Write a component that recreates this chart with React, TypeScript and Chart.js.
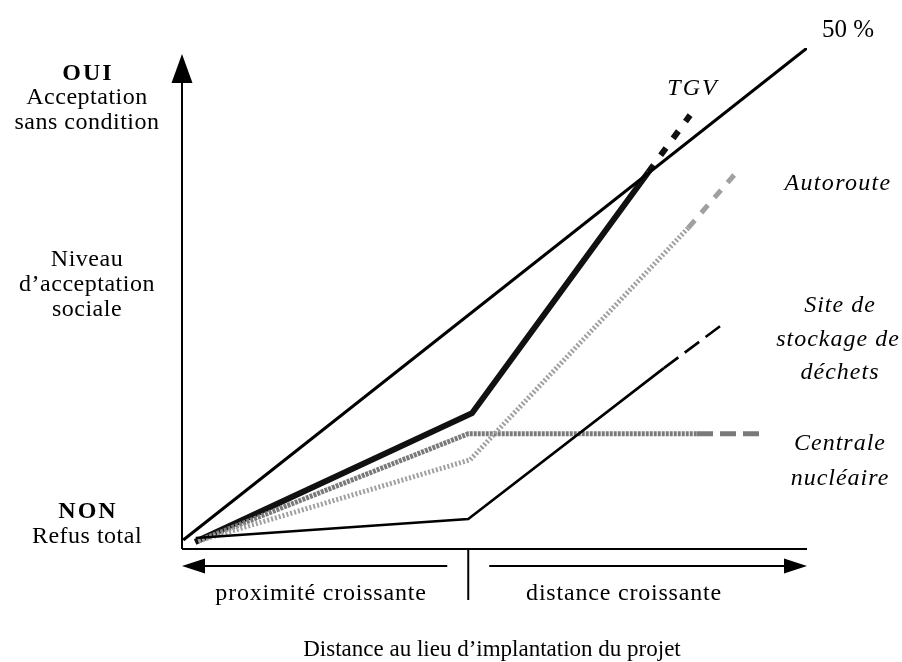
import React, { useEffect, useRef } from "react";
import { Chart, registerables } from "chart.js";

Chart.register(...registerables);

// Distance (0 = très proche, 100 = très loin) / niveau d'acceptation (0 = refus, 100 = acceptation)
const line50X = [0.2, 100];
const line50Y = [1.8, 100];
const tgvX = [2.1, 46.4, 74.6, 81.3];
const tgvY = [1.4, 27.1, 75.2, 86.6];
const autorouteX = [2.6, 46.1, 81.0, 89.0];
const autorouteY = [1.6, 17.8, 64.1, 75.6];
const dechetsX = [2.2, 45.8, 77.1, 87.0];
const dechetsY = [2.2, 6.0, 36.1, 45.3];
const centraleX = [2.6, 45.8, 82.4, 93.3];
const centraleY = [1.6, 23.0, 23.0, 23.0];

const seriesNames = ["50 %", "TGV", "Autoroute", "Site de stockage de déchets", "Centrale nucléaire"];
const leftTop = ["OUI", "Acceptation", "sans condition"];
const leftMid = ["Niveau", "d’acceptation", "sociale"];
const leftBottom = ["NON", "Refus total"];
const bottomLabels = ["proximité croissante", "distance croissante"];
const xTitle = "Distance au lieu d’implantation du projet";
const dechetsLabel = ["Site de", "stockage de", "déchets"];
const centraleLabel = ["Centrale", "nucléaire"];

const pts = (xs: number[], ys: number[]) => xs.map((x, i) => ({ x, y: ys[i] }));
const tailDash = (dash: number[]) => (ctx: any) => (ctx.p0DataIndex === 2 ? dash : undefined);

const FONT = '"Liberation Serif", "DejaVu Serif", serif';

const decor = {
  id: "decor",
  afterDraw(chart: any) {
    const { ctx, scales } = chart;
    const xs = scales.x;
    const ys = scales.y;
    const x0 = xs.getPixelForValue(0);
    const x1 = xs.getPixelForValue(100);
    const y0 = ys.getPixelForValue(0);
    const yTop = ys.getPixelForValue(98.8);
    const xMid = xs.getPixelForValue(45.8);
    ctx.save();
    ctx.strokeStyle = "#000";
    ctx.fillStyle = "#000";
    ctx.lineWidth = 2;
    // vertical axis
    ctx.beginPath();
    ctx.moveTo(x0, y0);
    ctx.lineTo(x0, yTop + 26);
    ctx.stroke();
    ctx.beginPath();
    ctx.moveTo(x0, yTop);
    ctx.lineTo(x0 - 10.5, yTop + 29);
    ctx.lineTo(x0 + 10.5, yTop + 29);
    ctx.closePath();
    ctx.fill();
    // baseline
    ctx.beginPath();
    ctx.moveTo(x0, y0);
    ctx.lineTo(x1, y0);
    ctx.stroke();
    // bottom arrows
    const ya = y0 + 17;
    ctx.beginPath();
    ctx.moveTo(x0 + 20, ya);
    ctx.lineTo(xMid - 21, ya);
    ctx.moveTo(xMid + 21, ya);
    ctx.lineTo(x1 - 20, ya);
    ctx.stroke();
    ctx.beginPath();
    ctx.moveTo(x0, ya);
    ctx.lineTo(x0 + 23, ya - 7.5);
    ctx.lineTo(x0 + 23, ya + 7.5);
    ctx.closePath();
    ctx.fill();
    ctx.beginPath();
    ctx.moveTo(x1, ya);
    ctx.lineTo(x1 - 23, ya - 7.5);
    ctx.lineTo(x1 - 23, ya + 7.5);
    ctx.closePath();
    ctx.fill();
    // centre tick
    ctx.beginPath();
    ctx.moveTo(xMid, y0);
    ctx.lineTo(xMid, y0 + 51);
    ctx.stroke();

    const txt = (s: string, x: number, y: number, font: string, align: CanvasTextAlign = "center", ls = "0px") => {
      ctx.font = font;
      (ctx as any).letterSpacing = ls;
      ctx.textAlign = align;
      ctx.textBaseline = "alphabetic";
      ctx.fillText(s, x, y);
    };
    const reg = `24px ${FONT}`;
    const bold = `bold 24px ${FONT}`;
    const ital = `italic 24px ${FONT}`;

    // left labels
    txt(leftTop[0], 88, 80, bold, "center", "2px");
    txt(leftTop[1], 87, 104, reg, "center", "0.5px");
    txt(leftTop[2], 87, 129, reg, "center", "0.5px");
    txt(leftMid[0], 87, 266, reg, "center", "0.5px");
    txt(leftMid[1], 87, 291, reg, "center", "0.5px");
    txt(leftMid[2], 87, 316, reg, "center", "0.5px");
    txt(leftBottom[0], 88, 518, bold, "center", "2px");
    txt(leftBottom[1], 87, 543, reg, "center", "0.5px");

    // bottom labels
    txt(bottomLabels[0], 321, 600, reg, "center", "0.8px");
    txt(bottomLabels[1], 624, 600, reg, "center", "0.8px");
    txt(xTitle, 492, 656, `23px ${FONT}`, "center", "0px");

    // series labels
    txt(seriesNames[0], 822, 37, `25px ${FONT}`, "left", "0px");
    txt(seriesNames[1], 693, 95, ital, "center", "2px");
    txt(seriesNames[2], 838, 190, ital, "center", "1.3px");
    txt(dechetsLabel[0], 840, 312, ital, "center", "1px");
    txt(dechetsLabel[1], 838, 346, ital, "center", "1px");
    txt(dechetsLabel[2], 840, 379, ital, "center", "1px");
    txt(centraleLabel[0], 840, 450, ital, "center", "1px");
    txt(centraleLabel[1], 840, 485, ital, "center", "1px");
    ctx.restore();
  },
};

export default function App() {
  const ref = useRef<HTMLCanvasElement | null>(null);
  useEffect(() => {
    if (!ref.current) return;
    const chart = new Chart(ref.current, {
      type: "line",
      data: {
        datasets: [
          {
            label: seriesNames[0],
            data: pts(line50X, line50Y),
            borderColor: "#000",
            borderWidth: 3,
          },
          {
            label: seriesNames[3],
            data: pts(dechetsX, dechetsY),
            borderColor: "#000",
            borderWidth: 2.6,
            segment: { borderDash: tailDash([18, 8]) },
          },
          {
            label: seriesNames[2],
            data: pts(autorouteX, autorouteY),
            borderColor: "#a0a0a0",
            borderWidth: 5,
            borderDash: [2, 2],
            segment: { borderDash: tailDash([10, 10]) },
          },
          {
            label: seriesNames[4],
            data: pts(centraleX, centraleY),
            borderColor: "#7a7a7a",
            borderWidth: 5,
            borderDash: [3, 1],
            segment: { borderDash: tailDash([16, 7]) },
          },
          {
            label: seriesNames[1],
            data: pts(tgvX, tgvY),
            borderColor: "#111",
            borderWidth: 6,
            segment: { borderDash: tailDash([9, 12]) },
          },
          {
            label: seriesNames[1] + " ",
            data: pts(tgvX, tgvY),
            borderColor: "#fff",
            borderWidth: 2,
            borderDash: [2, 3],
            segment: { borderDash: tailDash([2, 3, 2, 14]) },
          },
        ],
      },
      options: {
        animation: false,
        responsive: false,
        events: [],
        layout: { padding: { left: 182, right: 95, top: 48, bottom: 113 } },
        elements: { point: { radius: 0 }, line: { tension: 0, borderCapStyle: "butt" } },
        plugins: { legend: { display: false }, tooltip: { enabled: false }, title: { display: false } },
        scales: {
          x: { type: "linear", min: 0, max: 100, display: false },
          y: { type: "linear", min: 0, max: 100, display: false },
        },
      },
      plugins: [decor],
    });
    return () => chart.destroy();
  }, []);
  return (
    <div style={{ position: "absolute", left: 0, top: 0, width: 902, height: 662, background: "#fff" }}>
      <canvas ref={ref} width={902} height={662} style={{ display: "block" }} />
    </div>
  );
}
